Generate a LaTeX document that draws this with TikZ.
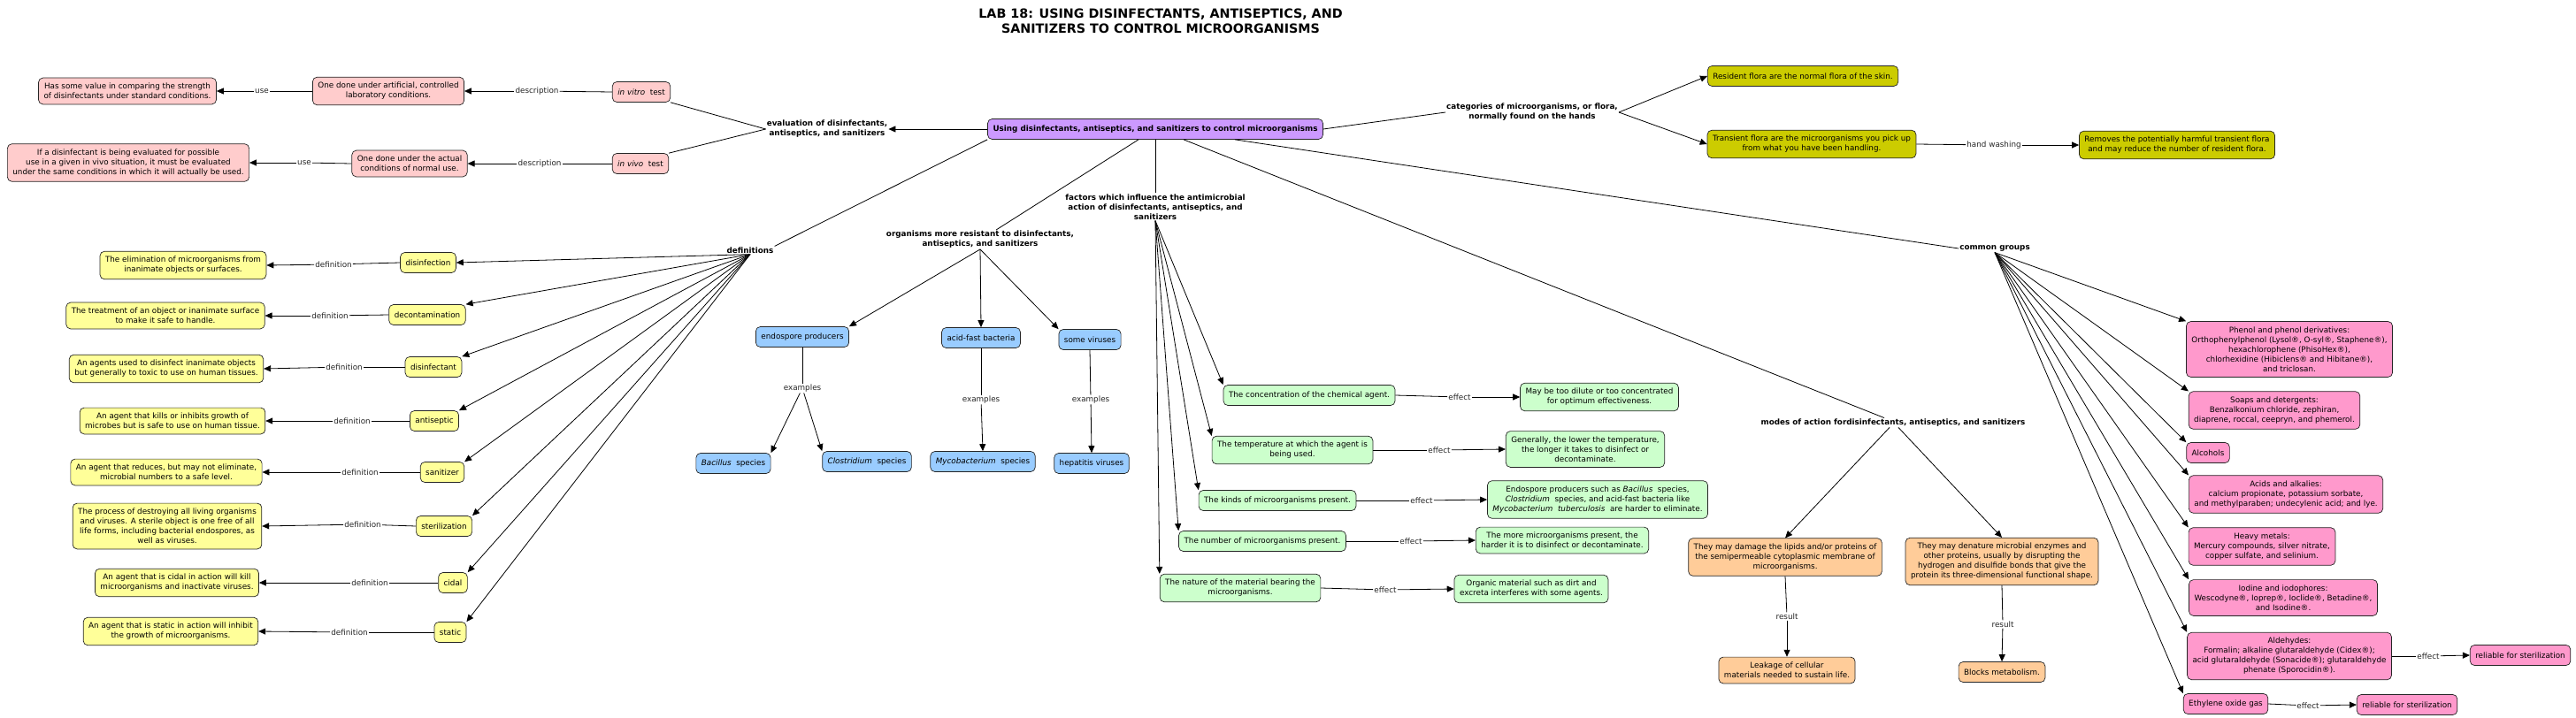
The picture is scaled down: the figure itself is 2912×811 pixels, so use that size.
\documentclass[tikz,border=0pt]{standalone}
\usepackage{fontspec}
\setmainfont{DejaVu Sans}
\usetikzlibrary{arrows.meta}
\newcommand\nf{\fontsize{8.8}{11}\selectfont}
\newcommand\lf{\fontsize{8.8}{11}\selectfont\bfseries}
\newcommand\tf{\fontsize{14.3}{17}\selectfont\bfseries}
\definecolor{cpink}{RGB}{255,204,204}
\definecolor{cpurple}{RGB}{204,153,255}
\definecolor{cyellow}{RGB}{255,255,153}
\definecolor{cblue}{RGB}{153,204,255}
\definecolor{cgreen}{RGB}{204,255,204}
\definecolor{colive}{RGB}{204,204,0}
\definecolor{corange}{RGB}{255,204,153}
\definecolor{cmag}{RGB}{255,153,204}
\tikzset{
  box/.style={draw=black!85, line width=0.7pt, rounded corners=5pt, align=center,
    inner xsep=6pt, inner ysep=6pt, minimum height=23pt, font=\nf, text=black},
  bxpink/.style={box, fill=cpink},
  bxpurple/.style={box, fill=cpurple, font=\lf},
  bxyellow/.style={box, fill=cyellow},
  bxblue/.style={box, fill=cblue},
  bxgreen/.style={box, fill=cgreen},
  bxolive/.style={box, fill=colive},
  bxorange/.style={box, fill=corange},
  bxmag/.style={box, fill=cmag},
  lbl/.style={font=\lf, align=center, inner sep=1pt, text=black},
  elab/.style={font=\nf, inner sep=1pt, fill=white, text=black!85},
  arr/.style={line width=0.8pt, -{Triangle[length=8pt,width=7pt]}},
  ln/.style={line width=0.8pt}
}
\begin{document}
\begin{tikzpicture}[x=1pt,y=-1pt]
\fill[white] (0,0) rectangle (2912,811);
\useasboundingbox (0,0) rectangle (2912,811);

% title
\node[font=\tf, align=center] (title) at (1312,24) {LAB 18: USING DISINFECTANTS, ANTISEPTICS, AND\\SANITIZERS TO CONTROL MICROORGANISMS};

% center
\node[bxpurple] (cn) at (1306,146) {Using disinfectants, antiseptics, and sanitizers to control microorganisms};

% evaluation branch
\node[lbl] (evl) at (935,146) {evaluation of disinfectants,\\antiseptics, and sanitizers};
\node[bxpink] (vitro) at (725,104) {\textit{in vitro}\ \ test};
\node[bxpink] (vivo) at (724,185) {\textit{in vivo}\ \ test};
\node[elab] (d1) at (607,103) {description};
\node[elab] (d2) at (610,185) {description};
\node[bxpink] (art) at (439,103) {One done under artificial, controlled\\laboratory conditions.};
\node[bxpink] (act) at (463,185) {One done under the actual\\conditions of normal use.};
\node[elab] (u1) at (296,103) {use};
\node[elab] (u2) at (344,184) {use};
\node[bxpink] (has) at (144,103) {Has some value in comparing the strength\\of disinfectants under standard conditions.};
\node[bxpink] (ifa) at (145,184) {If a disinfectant is being evaluated for possible\\use in a given in vivo situation, it must be evaluated\\under the same conditions in which it will actually be used.};

\draw[arr] (cn.west) -- (evl.east);
\draw[ln] (evl.west) -- (vitro.south east);
\draw[ln] (evl.west) -- (vivo.north east);
\draw[ln] (vitro.west) -- (d1);
\draw[arr] (d1) -- (art.east);
\draw[ln] (art.west) -- (u1);
\draw[arr] (u1) -- (has.east);
\draw[ln] (vivo.west) -- (d2);
\draw[arr] (d2) -- (act.east);
\draw[ln] (act.west) -- (u2);
\draw[arr] (u2) -- (ifa.east);

% definitions
\node[lbl] (defs) at (848,283) {definitions};
\draw[ln] (cn.south west) -- (defs.north east);
\node[bxyellow] (t1) at (484,297) {disinfection};
\node[bxyellow] (t2) at (483,356) {decontamination};
\node[bxyellow] (t3) at (490,415) {disinfectant};
\node[bxyellow] (t4) at (491,476) {antiseptic};
\node[bxyellow] (t5) at (500,534) {sanitizer};
\node[bxyellow] (t6) at (502,595) {sterilization};
\node[bxyellow] (t7) at (512,659) {cidal};
\node[bxyellow] (t8) at (509,715) {static};
\node[elab] (l1) at (377,299) {definition};
\node[elab] (l2) at (373,357) {definition};
\node[elab] (l3) at (389,415) {definition};
\node[elab] (l4) at (398,476) {definition};
\node[elab] (l5) at (407,534) {definition};
\node[elab] (l6) at (410,593) {definition};
\node[elab] (l7) at (418,659) {definition};
\node[elab] (l8) at (395,715) {definition};
\node[bxyellow] (b1) at (207,300) {The elimination of microorganisms from\\inanimate objects or surfaces.};
\node[bxyellow] (b2) at (187,357) {The treatment of an object or inanimate surface\\to make it safe to handle.};
\node[bxyellow] (b3) at (188,417) {An agents used to disinfect inanimate objects\\but generally to toxic to use on human tissues.};
\node[bxyellow] (b4) at (195,476) {An agent that kills or inhibits growth of\\microbes but is safe to use on human tissue.};
\node[bxyellow] (b5) at (188,534) {An agent that reduces, but may not eliminate,\\microbial numbers to a safe level.};
\node[bxyellow] (b6) at (189,595) {The process of destroying all living organisms\\and viruses. A sterile object is one free of all\\life forms, including bacterial endospores, as\\well as viruses.};
\node[bxyellow] (b7) at (200,659) {An agent that is cidal in action will kill\\microorganisms and inactivate viruses.};
\node[bxyellow] (b8) at (193,714) {An agent that is static in action will inhibit\\the growth of microorganisms.};
\draw[arr] (defs.south) -- (t1.east);
\foreach \i in {2,...,8} {\draw[arr] (defs.south) -- (t\i.north east);}
\foreach \i in {1,...,8} {\draw[ln] (t\i.west) -- (l\i); \draw[arr] (l\i) -- (b\i.east);}

% organisms
\node[lbl] (org) at (1108,271) {organisms more resistant to disinfectants,\\antiseptics, and sanitizers};
\draw[ln] ([xshift=-19pt]cn.south) -- ([xshift=18pt]org.north);
\node[bxblue] (endo) at (907,381) {endospore producers};
\node[bxblue] (acid) at (1109,382) {acid-fast bacteria};
\node[bxblue] (somev) at (1232,384) {some viruses};
\draw[arr] (org.south) -- (endo.north east);
\draw[arr] (org.south) -- (acid.north);
\draw[arr] (org.south) -- (somev.north west);
\node[elab] (x1) at (907,439) {examples};
\node[elab] (x2) at (1109,452) {examples};
\node[elab] (x3) at (1233,452) {examples};
\node[bxblue] (bac) at (829,524) {\textit{Bacillus}\ \ species};
\node[bxblue] (clo) at (980,522) {\textit{Clostridium}\ \ species};
\node[bxblue] (myc) at (1111,522) {\textit{Mycobacterium}\ \ species};
\node[bxblue] (hep) at (1234,524) {hepatitis viruses};
\draw[ln] (endo.south) -- (x1);
\draw[arr] (x1) -- (bac.north east);
\draw[arr] (x1) -- (clo.north west);
\draw[ln] (acid.south) -- (x2);
\draw[arr] (x2) -- (myc.north);
\draw[ln] (somev.south) -- (x3);
\draw[arr] (x3) -- (hep.north);

% factors
\node[lbl] (fac) at (1306,234) {factors which influence the antimicrobial\\action of disinfectants, antiseptics, and\\sanitizers};
\draw[ln] (cn.south) -- (fac.north);
\node[bxgreen] (f1) at (1480,447) {The concentration of the chemical agent.};
\node[bxgreen] (f2) at (1461,509) {The temperature at which the agent is\\being used.};
\node[bxgreen] (f3) at (1444,566) {The kinds of microorganisms present.};
\node[bxgreen] (f4) at (1427,612) {The number of microorganisms present.};
\node[bxgreen] (f5) at (1402,665) {The nature of the material bearing the\\microorganisms.};
\node[elab] (e1) at (1650,449) {effect};
\node[elab] (e2) at (1627,509) {effect};
\node[elab] (e3) at (1607,566) {effect};
\node[elab] (e4) at (1595,612) {effect};
\node[elab] (e5) at (1566,667) {effect};
\node[bxgreen] (r1) at (1808,449) {May be too dilute or too concentrated\\for optimum effectiveness.};
\node[bxgreen] (r2) at (1792,508) {Generally, the lower the temperature,\\the longer it takes to disinfect or\\decontaminate.};
\node[bxgreen] (r3) at (1806,565) {Endospore producers such as \textit{Bacillus}\ \ species,\\\textit{Clostridium}\ \ species, and acid-fast bacteria like\\\textit{Mycobacterium\ \ tuberculosis}\ \ are harder to eliminate.};
\node[bxgreen] (r4) at (1766,611) {The more microorganisms present, the\\harder it is to disinfect or decontaminate.};
\node[bxgreen] (r5) at (1731,666) {Organic material such as dirt and\\excreta interferes with some agents.};
\foreach \i in {1,...,5} {\draw[arr] (fac.south) -- (f\i.north west); \draw[ln] (f\i.east) -- (e\i); \draw[arr] (e\i) -- (r\i.west);}

% modes
\node[lbl] (modes) at (2140,478) {modes of action fordisinfectants, antiseptics, and sanitizers};
\draw[ln] ([xshift=32pt]cn.south) -- ([xshift=-10pt]modes.north);
\node[bxorange] (dmg) at (2018,630) {They may damage the lipids and/or proteins of\\the semipermeable cytoplasmic membrane of\\microorganisms.};
\node[bxorange] (den) at (2263,635) {They may denature microbial enzymes and\\other proteins, usually by disrupting the\\hydrogen and disulfide bonds that give the\\protein its three-dimensional functional shape.};
\draw[arr] ([xshift=-4pt]modes.south) -- (dmg.north);
\draw[arr] ([xshift=6pt]modes.south) -- (den.north);
\node[elab] (res1) at (2020,697) {result};
\node[elab] (res2) at (2264,706) {result};
\node[bxorange] (leak) at (2020,758) {Leakage of cellular\\materials needed to sustain life.};
\node[bxorange] (blk) at (2263,760) {Blocks metabolism.};
\draw[ln] (dmg.south) -- (res1);
\draw[arr] (res1) -- (leak.north);
\draw[ln] (den.south) -- (res2);
\draw[arr] (res2) -- (blk.north);

% categories
\node[lbl] (cat) at (1732,127) {categories of microorganisms, or flora,\\normally found on the hands};
\draw[ln] (cn.east) -- (cat.west);
\node[bxolive] (resf) at (2038,86) {Resident flora are the normal flora of the skin.};
\node[bxolive] (trf) at (2048,163) {Transient flora are the microorganisms you pick up\\from what you have been handling.};
\draw[arr] (cat.east) -- (resf.west);
\draw[arr] (cat.east) -- (trf.west);
\node[elab] (hw) at (2254,164) {hand washing};
\node[bxolive] (rem) at (2461,164) {Removes the potentially harmful transient flora\\and may reduce the number of resident flora.};
\draw[ln] (trf.east) -- (hw);
\draw[arr] (hw) -- (rem.west);

% common groups
\node[lbl] (cg) at (2255,281) {common groups};
\draw[ln] ([xshift=90pt]cn.south) -- (cg.west);
\node[bxmag] (g1) at (2588,395) {Phenol and phenol derivatives:\\Orthophenylphenol (Lysol®, O-syl®, Staphene®),\\hexachlorophene (PhisoHex®),\\chlorhexidine (Hibiclens® and Hibitane®),\\and triclosan.};
\node[bxmag] (g2) at (2571,464) {Soaps and detergents:\\Benzalkonium chloride, zephiran,\\diaprene, roccal, ceepryn, and phemerol.};
\node[bxmag] (g3) at (2496,512) {Alcohols};
\node[bxmag] (g4) at (2584,559) {Acids and alkalies:\\calcium propionate, potassium sorbate,\\and methylparaben; undecylenic acid; and lye.};
\node[bxmag] (g5) at (2557,618) {Heavy metals:\\Mercury compounds, silver nitrate,\\copper sulfate, and selinium.};
\node[bxmag] (g6) at (2581,676) {Iodine and iodophores:\\Wescodyne®, Ioprep®, Ioclide®, Betadine®,\\and Isodine®.};
\node[bxmag] (g7) at (2588,742) {Aldehydes:\\Formalin; alkaline glutaraldehyde (Cidex®);\\acid glutaraldehyde (Sonacide®); glutaraldehyde\\phenate (Sporocidin®).};
\node[bxmag] (g8) at (2516,796) {Ethylene oxide gas};
\foreach \i in {1,...,8} {\draw[arr] (cg.south) -- (g\i.north west);}
\node[elab] (ef6) at (2745,742) {effect};
\node[bxmag] (rel1) at (2849,741) {reliable for sterilization};
\node[elab] (ef7) at (2609,798) {effect};
\node[bxmag] (rel2) at (2721,797) {reliable for sterilization};
\draw[ln] (g7.east) -- (ef6);
\draw[arr] (ef6) -- (rel1.west);
\draw[ln] (g8.east) -- (ef7);
\draw[arr] (ef7) -- (rel2.west);
\end{tikzpicture}
\end{document}
